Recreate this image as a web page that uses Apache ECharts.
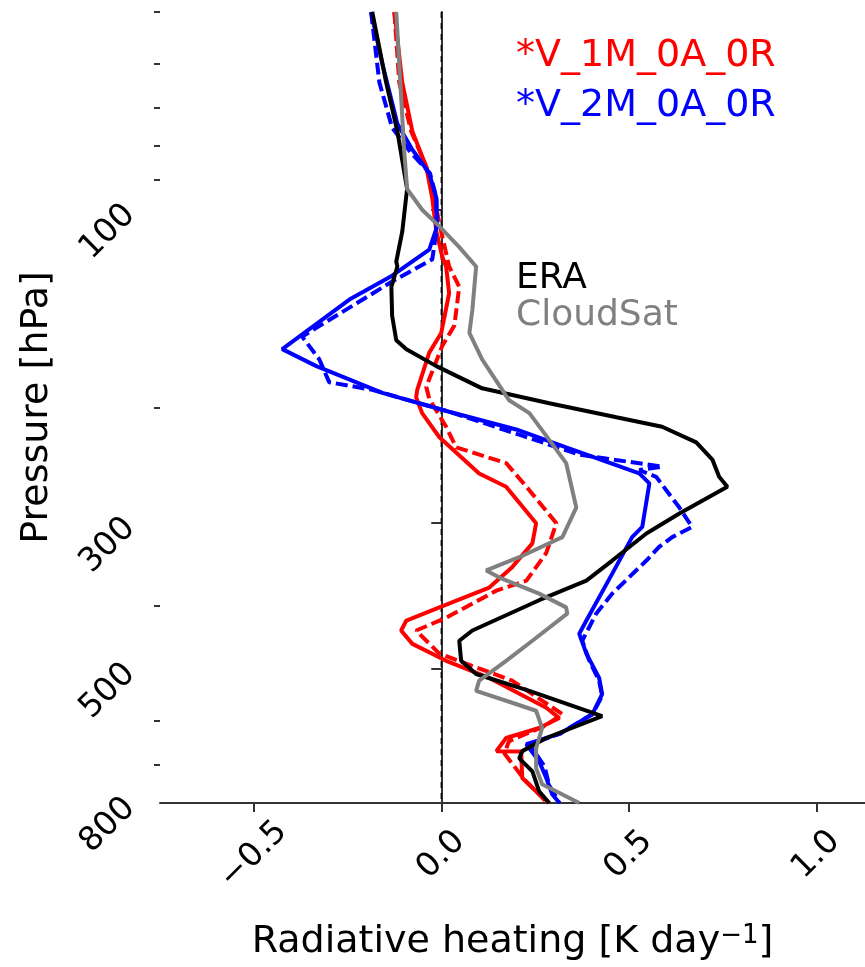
<!DOCTYPE html>
<html>
<head>
<meta charset="utf-8">
<script src="https://cdn.jsdelivr.net/npm/echarts@6/dist/echarts.min.js"></script>
<style>
  html, body { margin: 0; padding: 0; background: #fff; }
  #main { width: 865px; height: 967px; }
</style>
</head>
<body>
<div id="main"></div>
<script>
// [heating (K/day), pressure (hPa)] pairs, read top to bottom
const v1mSolid = [[-0.125,50],[-0.104,64],[-0.077,76],[-0.04,86],[-0.024,96],[-0.013,108],[0.003,118],[0.013,122],[0.021,134],[0,154],[-0.032,165],[-0.064,188],[-0.067,193],[-0.051,204],[-0.005,222],[0.101,252],[0.173,264],[0.253,300],[0.243,322],[0.189,350],[0.128,376],[-0.005,403],[-0.093,422],[-0.107,437],[-0.077,458],[0.013,486],[0.128,516],[0.28,573],[0.315,594],[0.261,615],[0.173,637],[0.147,667],[0.213,668],[0.216,733],[0.261,776],[0.288,800]];
const v1mDashed = [[-0.125,50],[-0.112,64],[-0.08,76],[-0.04,86],[-0.019,96],[0,108],[0.021,122],[0.048,131],[0.035,150],[0.003,161],[-0.04,186],[-0.032,194],[0.013,214],[0.04,230],[0.173,243],[0.227,264],[0.307,300],[0.28,333],[0.227,367],[0.147,380],[0.013,418],[-0.067,437],[-0.005,474],[0.189,521],[0.323,586],[0.275,611],[0.181,644],[0.168,672],[0.221,736],[0.261,776],[0.283,800]];
const v2mSolid = [[-0.187,50],[-0.157,60],[-0.117,74],[-0.077,81],[-0.032,88],[-0.013,96],[-0.011,106],[-0.032,115],[-0.131,126],[-0.245,137],[-0.424,163],[-0.333,173],[-0.157,190],[0.021,203],[0.2,216],[0.333,230],[0.528,252],[0.555,261],[0.536,304],[0.509,315],[0.456,358],[0.387,422],[0.368,442],[0.387,474],[0.421,516],[0.429,546],[0.403,586],[0.315,628],[0.227,651],[0.261,691],[0.28,733],[0.296,776],[0.315,800]];
const v2mDashed = [[-0.187,50],[-0.165,64],[-0.131,75],[-0.08,82],[-0.03,88],[-0.013,96],[-0.013,108],[-0.024,119],[-0.125,128],[-0.371,156],[-0.325,169],[-0.299,183],[-0.184,188],[0.021,203],[0.208,220],[0.368,236],[0.589,246],[0.528,249],[0.573,255],[0.635,284],[0.669,304],[0.616,315],[0.581,326],[0.547,342],[0.456,384],[0.413,412],[0.376,453],[0.395,486],[0.421,521],[0.429,550],[0.403,586],[0.315,628],[0.235,651],[0.275,703],[0.288,752],[0.315,800]];
const era = [[-0.184,50],[-0.147,64],[-0.117,76],[-0.091,93],[-0.093,95],[-0.104,108],[-0.12,120],[-0.117,122],[-0.133,131],[-0.131,145],[-0.12,158],[-0.093,163],[-0.013,173],[0.109,187],[0.288,197],[0.467,207],[0.589,214],[0.68,226],[0.723,240],[0.741,255],[0.763,264],[0.635,290],[0.547,311],[0.456,342],[0.387,367],[0.261,393],[0.083,437],[0.048,453],[0.053,486],[0.093,509],[0.235,540],[0.429,590],[0.28,637],[0.216,667],[0.208,684],[0.243,716],[0.261,768],[0.288,800]];
const cloudsat = [[-0.12,50],[-0.112,60],[-0.099,81],[-0.091,93],[-0.051,100],[-0.005,106],[0.048,114],[0.093,122],[0.083,142],[0.075,154],[0.109,169],[0.181,195],[0.235,204],[0.288,224],[0.333,243],[0.36,284],[0.323,315],[0.208,338],[0.12,354],[0.155,363],[0.261,384],[0.333,403],[0.336,412],[0.243,453],[0.173,486],[0.101,521],[0.093,540],[0.173,559],[0.253,579],[0.269,615],[0.253,660],[0.253,708],[0.269,749],[0.368,800]];
const zeroLine = [[0,50],[0,800]];

const xTicks = [-0.5, 0, 0.5, 1.0];
const yMajorTicks = [100, 300, 500, 800];
const yMinorTicks = [50, 60, 70, 80, 90, 200, 400, 600, 700];

const FONT = 'DejaVu Sans';
const AXIS_COLOR = '#333';

let chart = echarts.init(document.getElementById('main'));

function curve(data, color, dashed) {
  return {
    type: 'line',
    data: data,
    symbol: 'none',
    smooth: false,
    silent: true,
    lineStyle: { color: color, width: 4, type: dashed ? [12, 5] : 'solid' }
  };
}

const yBase = { type: 'log', logBase: 10, min: 50, max: 800, inverse: true, position: 'left', splitLine: { show: false } };

chart.setOption({
  animation: false,
  backgroundColor: '#fff',
  grid: { left: 160, top: 12, right: 0, bottom: 164 },
  xAxis: {
    type: 'value',
    min: -0.75,
    max: 1.13,
    name: 'Radiative heating [K day{sup|\u22121}]',
    nameLocation: 'middle',
    nameGap: 120,
    nameTextStyle: {
      fontFamily: FONT, fontSize: 38, color: '#000',
      rich: { sup: { fontFamily: FONT, fontSize: 26, color: '#000', verticalAlign: 'top', lineHeight: 26 } }
    },
    axisLine: { lineStyle: { color: AXIS_COLOR, width: 2 } },
    axisTick: { customValues: xTicks, length: 9, lineStyle: { color: AXIS_COLOR, width: 2 } },
    axisLabel: {
      customValues: xTicks,
      rotate: 45,
      align: 'center',
      verticalAlign: 'middle',
      margin: 52,
      fontFamily: FONT,
      fontSize: 33,
      color: '#000',
      formatter: v => (v < 0 ? '\u2212' : '') + Math.abs(v).toFixed(1)
    },
    splitLine: { show: false }
  },
  yAxis: [
    Object.assign({}, yBase, {
      name: 'Pressure [hPa]',
      nameLocation: 'middle',
      nameGap: 104,
      nameRotate: 90,
      nameTextStyle: { fontFamily: FONT, fontSize: 38, color: '#000' },
      axisLine: { show: true, lineStyle: { color: AXIS_COLOR, width: 2 } },
      axisTick: { show: true, customValues: yMajorTicks, length: 10, lineStyle: { color: AXIS_COLOR, width: 2 } },
      axisLabel: {
        customValues: yMajorTicks,
        rotate: 45,
        margin: 30,
        fontFamily: FONT,
        fontSize: 33,
        color: '#000',
        formatter: v => String(Math.round(v))
      }
    }),
    Object.assign({}, yBase, {
      axisLine: { show: false },
      axisTick: { show: true, customValues: yMinorTicks, length: 6, lineStyle: { color: AXIS_COLOR, width: 2 } },
      axisLabel: { show: false }
    })
  ],
  graphic: [
    { type: 'text', left: 516, top: 37, style: { text: '*V_1M_0A_0R', fill: '#ff0000', font: '38px "DejaVu Sans"' } },
    { type: 'text', left: 516, top: 87, style: { text: '*V_2M_0A_0R', fill: '#0000ff', font: '38px "DejaVu Sans"' } },
    { type: 'text', left: 516, top: 261, style: { text: 'ERA', fill: '#000000', font: '36px "DejaVu Sans"' } },
    { type: 'text', left: 516, top: 298, style: { text: 'CloudSat', fill: '#808080', font: '36px "DejaVu Sans"' } }
  ],
  series: [
    {
      type: 'line',
      data: zeroLine,
      symbol: 'none',
      silent: true,
      lineStyle: { color: '#000', width: 1.3, type: [6, 5] }
    },
    curve(v1mSolid, '#ff0000', false),
    curve(v1mDashed, '#ff0000', true),
    curve(v2mSolid, '#0000ff', false),
    curve(v2mDashed, '#0000ff', true),
    curve(era, '#000000', false),
    curve(cloudsat, '#808080', false)
  ]
});
</script>
</body>
</html>
